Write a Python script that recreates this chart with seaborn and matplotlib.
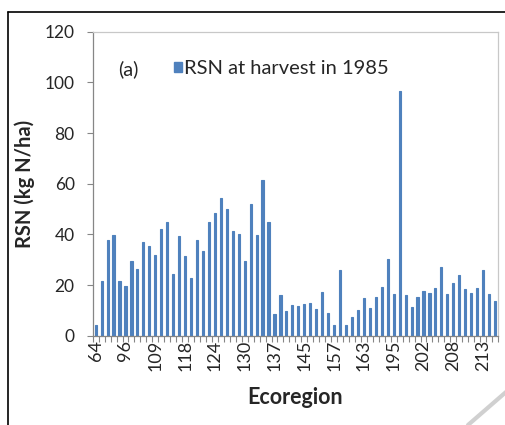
import numpy as np
import pandas as pd
import matplotlib
matplotlib.use("Agg")
import matplotlib.pyplot as plt
from matplotlib.lines import Line2D
from matplotlib.patches import Patch
import seaborn as sns

# ---- data ----
rsn_1985 = [4.4, 21.5, 37.8, 39.7, 21.6, 19.6, 29.5, 26.5, 36.9, 35.6,
            32.0, 42.2, 44.7, 24.4, 39.3, 31.4, 22.8, 37.6, 33.6, 44.7,
            48.4, 54.2, 50.0, 41.4, 40.1, 29.6, 52.0, 39.7, 61.5, 44.7,
            8.4, 15.9, 9.7, 12.3, 11.7, 12.6, 13.0, 10.7, 17.1, 8.8,
            4.1, 26.0, 4.1, 7.2, 10.3, 14.8, 11.1, 15.2, 19.2, 30.4,
            16.3, 96.4, 15.9, 11.5, 15.2, 17.7, 16.9, 18.8, 27.1, 16.3,
            20.9, 23.8, 18.4, 16.9, 18.8, 26.0, 16.3, 13.6]
tick_labels = ["64", "96", "109", "118", "124", "130", "137", "145",
               "157", "163", "195", "202", "208", "213"]
tick_step = 5
y_ticks = [0, 20, 40, 60, 80, 100, 120]
legend_label = "RSN at harvest in 1985"
panel_label = "(a)"

sns.set_theme(style="white")
plt.rcParams['font.family'] = ['Lato', 'DejaVu Sans']

W, H = 506, 425
fig = plt.figure(figsize=(W / 100, H / 100), dpi=100)
ax = fig.add_axes([92.7 / W, 1 - 335.7 / H, (498 - 92.7) / W, (335.7 - 31.7) / H])

df = pd.DataFrame({"slot": list(range(len(rsn_1985))), "RSN": rsn_1985})
bar_color = "#4F81BD"
sns.barplot(data=df, x="slot", y="RSN", color=bar_color, width=0.36,
            saturation=1, ax=ax, errorbar=None,
            edgecolor=bar_color, linewidth=0.8)

n = len(rsn_1985)
ax.set_xlim(-0.5, n - 0.5)
ax.set_ylim(0, 120)
ax.set_yticks(y_ticks)
ax.set_yticklabels([str(v) for v in y_ticks], fontsize=12.5, color="#262626")

ax.set_xticks(list(range(0, n, tick_step))[:len(tick_labels)])
ax.set_xticklabels(tick_labels, rotation=90, fontsize=13, color="#262626")
ax.set_xticks(np.arange(-0.5, n, 1.0), minor=True)
ax.tick_params(axis="x", which="major", length=0, pad=3)
ax.tick_params(axis="x", which="minor", length=4, width=0.8, color="#868686", direction="out", bottom=True)
ax.tick_params(axis="y", which="major", length=4, width=0.8, color="#868686", direction="out", left=True, pad=9)

for s in ["left", "bottom"]:
    ax.spines[s].set_color("#868686")
    ax.spines[s].set_linewidth(0.9)
for s in ["top", "right"]:
    ax.spines[s].set_color("#C8C8C8")
    ax.spines[s].set_linewidth(0.9)

ax.set_xlabel("Ecoregion", fontsize=15.5, fontweight="bold", color="#262626")
ax.set_ylabel("RSN (kg N/ha)", fontsize=14.5, fontweight="bold", color="#262626")
ax.xaxis.set_label_coords(0.5, -0.168)
ax.yaxis.set_label_coords(-0.142, 0.5)

ax.legend(handles=[Patch(facecolor=bar_color, edgecolor=bar_color, label=legend_label)],
          loc="center left", bbox_to_anchor=(174 / W, 1 - 69 / H),
          bbox_transform=fig.transFigure, frameon=False, borderpad=0,
          borderaxespad=0, handlelength=0.4, handleheight=0.4,
          handletextpad=0.1, prop={"size": 14.5})
fig.text(118 / W, 1 - 69 / H, panel_label, ha="left", va="center",
         fontsize=14.5, color="#262626")

# outer frame of the original figure
fig.add_artist(Line2D([8 / W, 8 / W], [0, 1 - 12 / H], transform=fig.transFigure,
                      color="black", lw=1.2))
fig.add_artist(Line2D([8 / W, 1], [1 - 12 / H, 1 - 12 / H], transform=fig.transFigure,
                      color="black", lw=1.2))
fig.add_artist(Line2D([468 / W, 1], [0, 1 - 392 / H], transform=fig.transFigure,
                      color="#D0D0D0", lw=3))

fig.savefig("out.png", dpi=100)
